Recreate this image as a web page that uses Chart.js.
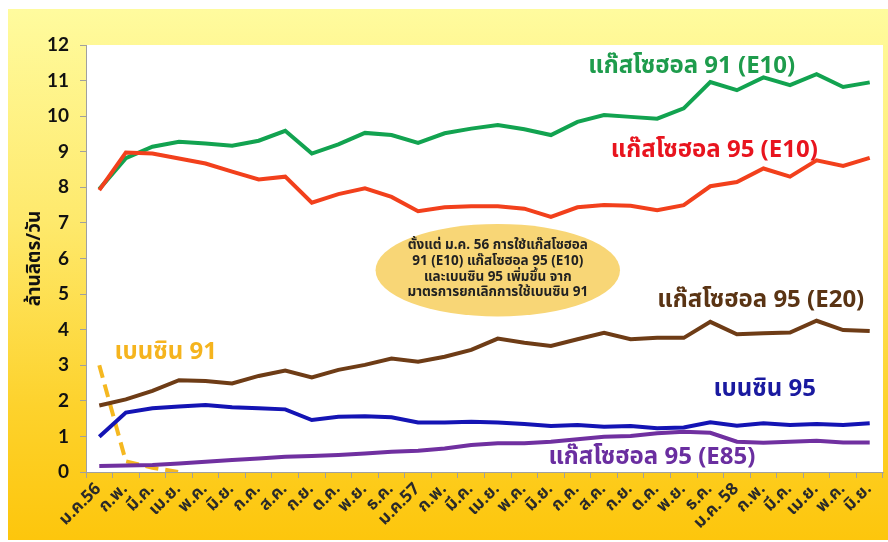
<!DOCTYPE html>
<html>
<head>
<meta charset="utf-8">
<script src="https://cdn.jsdelivr.net/npm/chart.js@4.4.1/dist/chart.umd.min.js"></script>
<style>
    html, body { margin: 0; padding: 0; background: #fff; }
    #panel {
        position: absolute;
        left: 8px;
        top: 9px;
        width: 880px;
        height: 531px;
        background: linear-gradient(to bottom, #fffb9e 0%, #fee96c 40%, #fdd22c 75%, #fdc60c 100%);
    }
    canvas { display: block; }
</style>
</head>
<body>
<div id="panel"><canvas id="fuelChart" width="880" height="531"></canvas></div>
<script>
// ========== DATA ==========
const months = ['ม.ค.56', 'ก.พ.', 'มี.ค.', 'เม.ย.', 'พ.ค.', 'มิ.ย.', 'ก.ค.', 'ส.ค.', 'ก.ย.', 'ต.ค.', 'พ.ย.', 'ธ.ค.',
    'ม.ค.57', 'ก.พ.', 'มี.ค.', 'เม.ย.', 'พ.ค.', 'มิ.ย.', 'ก.ค.', 'ส.ค.', 'ก.ย.', 'ต.ค.', 'พ.ย.', 'ธ.ค.',
    'ม.ค. 58', 'ก.พ.', 'มี.ค.', 'เม.ย.', 'พ.ค.', 'มิ.ย.'];

const gasohol91E10 = [7.95, 8.82, 9.14, 9.28, 9.23, 9.17, 9.31, 9.59, 8.95, 9.21, 9.53, 9.47, 9.25, 9.52, 9.65,
    9.75, 9.63, 9.47, 9.84, 10.03, 9.98, 9.93, 10.22, 10.96, 10.73, 11.09, 10.87, 11.18, 10.82, 10.95];
const gasohol95E10 = [7.92, 8.98, 8.95, 8.81, 8.67, 8.44, 8.22, 8.30, 7.57, 7.81, 7.97, 7.73, 7.33, 7.44, 7.47,
    7.47, 7.40, 7.17, 7.44, 7.50, 7.48, 7.36, 7.50, 8.03, 8.15, 8.53, 8.30, 8.76, 8.60, 8.83];
const gasohol95E20 = [1.87, 2.04, 2.28, 2.58, 2.56, 2.49, 2.70, 2.85, 2.66, 2.87, 3.01, 3.19, 3.10, 3.24, 3.43,
    3.75, 3.63, 3.54, 3.73, 3.91, 3.73, 3.77, 3.77, 4.22, 3.87, 3.90, 3.92, 4.25, 3.99, 3.96];
const benzin95 = [0.99, 1.67, 1.79, 1.84, 1.88, 1.82, 1.79, 1.76, 1.46, 1.55, 1.57, 1.54, 1.39, 1.39, 1.41,
    1.39, 1.35, 1.29, 1.32, 1.27, 1.29, 1.23, 1.25, 1.40, 1.30, 1.37, 1.32, 1.35, 1.32, 1.37];
const gasohol95E85 = [0.17, 0.18, 0.20, 0.24, 0.29, 0.34, 0.38, 0.43, 0.45, 0.48, 0.52, 0.57, 0.60, 0.66, 0.76,
    0.81, 0.81, 0.85, 0.92, 0.99, 1.01, 1.09, 1.13, 1.10, 0.85, 0.82, 0.85, 0.88, 0.83, 0.83];
const benzin91 = [3.0, 0.3, 0.12, 0, null, null, null, null, null, null, null, null, null, null, null,
    null, null, null, null, null, null, null, null, null, null, null, null, null, null, null];

const yTicks = [0, 1, 2, 3, 4, 5, 6, 7, 8, 9, 10, 11, 12];
// ==========================

const THAI_FONT = "'Noto Sans Thai', Tahoma, 'Noto Sans', 'DejaVu Sans', sans-serif";

// series labels placed in data units (category index, value)
const seriesLabels = [
    { text: 'แก๊สโซฮอล 91 (E10)', color: '#1e9c4c', x: 22.3, y: 11.35 },
    { text: 'แก๊สโซฮอล 95 (E10)', color: '#e8141e', x: 23.15, y: 9.0 },
    { text: 'แก๊สโซฮอล 95 (E20)', color: '#5a3414', x: 24.9, y: 4.78 },
    { text: 'เบนซิน 95', color: '#1a1aa0', x: 25.05, y: 2.28 },
    { text: 'แก๊สโซฮอล 95 (E85)', color: '#6a2ea0', x: 20.8, y: 0.37 },
    { text: 'เบนซิน 91', color: '#f5b41e', x: 2.5, y: 3.31 }
];

const noteLines = [
    'ตั้งแต่ ม.ค. 56 การใช้แก๊สโซฮอล',
    '91 (E10) แก๊สโซฮอล 95 (E10)',
    'และเบนซิน 95 เพิ่มขึ้น จาก',
    'มาตรการยกเลิกการใช้เบนซิน 91'
];

const whiteArea = {
    id: 'whiteArea',
    beforeDraw(chart) {
        const { ctx, chartArea } = chart;
        ctx.save();
        ctx.fillStyle = '#ffffff';
        ctx.fillRect(chartArea.left, chartArea.top, chartArea.right - chartArea.left, chartArea.bottom - chartArea.top);
        ctx.restore();
    }
};

const annotations = {
    id: 'annotations',
    afterDatasetsDraw(chart) {
        const { ctx } = chart;
        const xs = chart.scales.x;
        const ys = chart.scales.y;
        ctx.save();

        // note bubble
        const cx = xs.getPixelForValue(15.0);
        const cy = ys.getPixelForValue(5.67);
        const rx = xs.getPixelForValue(4.6) - xs.getPixelForValue(0);
        const ry = ys.getPixelForValue(0) - ys.getPixelForValue(1.3);
        ctx.fillStyle = '#f8d676';
        ctx.beginPath();
        ctx.ellipse(cx, cy, rx, ry, 0, 0, Math.PI * 2);
        ctx.fill();

        ctx.fillStyle = '#222';
        ctx.font = 'bold 13.5px ' + THAI_FONT;
        ctx.textAlign = 'center';
        ctx.textBaseline = 'middle';
        noteLines.forEach((line, i) => {
            ctx.fillText(line, cx, cy - 23.5 + i * 15.6);
        });

        // series labels
        ctx.font = 'bold 24px ' + THAI_FONT;
        seriesLabels.forEach(l => {
            ctx.fillStyle = l.color;
            ctx.fillText(l.text, xs.getPixelForValue(l.x), ys.getPixelForValue(l.y));
        });
        ctx.restore();
    }
};

function lineSet(label, data, color, extra) {
    return Object.assign({
        label: label,
        data: data,
        borderColor: color,
        backgroundColor: color,
        borderWidth: 4,
        tension: 0,
        pointRadius: 0,
        fill: false
    }, extra || {});
}

const ctx = document.getElementById('fuelChart').getContext('2d');
new Chart(ctx, {
    type: 'line',
    data: {
        labels: months,
        datasets: [
            lineSet('แก๊สโซฮอล 95 (E85)', gasohol95E85, '#7030a0'),
            lineSet('เบนซิน 95', benzin95, '#1414b4'),
            lineSet('แก๊สโซฮอล 95 (E20)', gasohol95E20, '#6e3c16'),
            lineSet('แก๊สโซฮอล 95 (E10)', gasohol95E10, '#f2401c'),
            lineSet('แก๊สโซฮอล 91 (E10)', gasohol91E10, '#12a350'),
            lineSet('เบนซิน 91', benzin91, '#f5b820', { borderDash: [13, 7], borderCapStyle: 'butt' })
        ]
    },
    options: {
        responsive: false,
        animation: false,
        devicePixelRatio: 1,
        layout: { padding: { top: 36, right: 5, left: 8, bottom: 0 } },
        plugins: {
            legend: { display: false },
            tooltip: { enabled: false }
        },
        scales: {
            x: {
                type: 'category',
                offset: true,
                afterFit: s => { s.height = 68; },
                grid: { offset: true, drawOnChartArea: false, tickLength: 6, color: '#a0a0a0' },
                border: { color: '#a0a0a0' },
                ticks: {
                    autoSkip: false,
                    maxRotation: 45,
                    minRotation: 45,
                    padding: 2,
                    color: '#2a2a2a',
                    font: { family: THAI_FONT, size: 17, weight: 'bold' }
                }
            },
            y: {
                min: 0,
                max: 12,
                afterFit: s => { s.width = 70; },
                afterBuildTicks: s => { s.ticks = yTicks.map(v => ({ value: v })); },
                grid: { drawOnChartArea: false, tickLength: 6, color: '#a0a0a0' },
                border: { color: '#a0a0a0' },
                ticks: {
                    padding: 11,
                    color: '#111',
                    font: { family: "Lato, 'Liberation Sans', sans-serif", size: 19, weight: 'bold' }
                },
                title: {
                    display: true,
                    text: 'ล้านลิตร/วัน',
                    color: '#111',
                    padding: { top: 9, bottom: 0 },
                    font: { family: THAI_FONT, size: 19, weight: 'bold' }
                }
            }
        }
    },
    plugins: [whiteArea, annotations]
});
</script>
</body>
</html>
